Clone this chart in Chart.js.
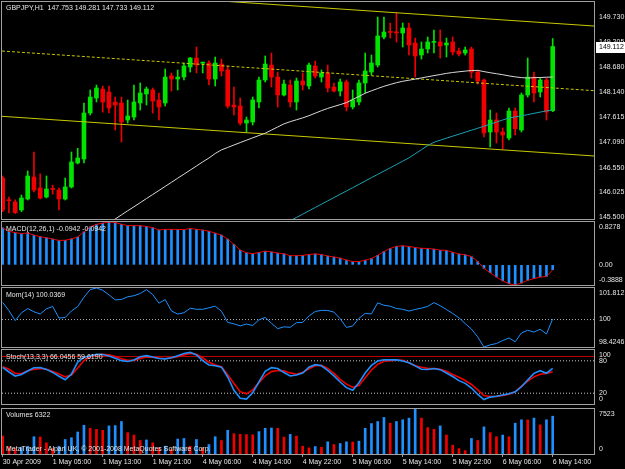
<!DOCTYPE html>
<html lang="en">
<head>
<meta charset="UTF-8">
<title>GBPJPY,H1</title>
<script src="https://cdn.jsdelivr.net/npm/chart.js"></script>
<style>
    body { margin: 0; background: #000; }
    #wrap { position: relative; width: 625px; height: 469px; overflow: hidden; background: #000; }
    #wrap canvas { position: absolute; left: 0; top: 0; }
    .lbl {
        position: absolute; left: 6px;
        font: 7px "Liberation Sans", Arial, sans-serif;
        line-height: 8px; color: #e6e6e6; white-space: nowrap;
    }
</style>
</head>
<body>
<div id="wrap">
    <canvas id="mainChart" width="625" height="469"></canvas>
    <canvas id="macdChart" width="625" height="469"></canvas>
    <canvas id="momChart" width="625" height="469"></canvas>
    <canvas id="stochChart" width="625" height="469"></canvas>
    <canvas id="volChart" width="625" height="469"></canvas>
    <div class="lbl" style="top:4px">GBPJPY,H1&nbsp; 147.753 149.281 147.733 149.112</div>
    <div class="lbl" style="top:225px">MACD(12,26,1) -0.0942 -0.0942</div>
    <div class="lbl" style="top:291px">Mom(14) 100.0369</div>
    <div class="lbl" style="top:353px">Stoch(13,3,3) 66.0456 59.6190</div>
    <div class="lbl" style="top:411px">Volumes 6322</div>
    <div class="lbl" style="top:445px">MetaTrader - Alpari UK, © 2001-2008 MetaQuotes Software Corp.</div>
</div>
<script>
// ---- data (one entry per H1 bar, 30 Apr 21:00 .. 6 May 14:00) ----
const opens = [146.331,145.870,145.824,145.655,145.887,146.353,146.120,145.929,146.110,146.078,
    145.887,146.141,146.649,146.733,147.706,148.023,148.214,148.150,147.939,147.918,
    147.558,147.621,147.918,148.108,148.193,147.981,147.918,148.489,148.425,148.467,
    148.679,148.869,148.760,148.764,148.425,148.742,148.616,147.875,147.854,147.494,
    147.516,147.939,148.404,148.721,148.467,148.087,148.298,147.939,148.383,148.277,
    148.700,148.467,148.552,148.256,148.171,148.362,147.833,147.939,148.341,148.573,
    148.721,149.313,149.430,149.420,149.398,149.504,149.187,148.933,149.060,149.200,
    149.208,149.144,149.208,149.017,148.975,149.060,148.573,148.404,147.304,147.558,
    147.304,147.177,147.748,147.346,148.087,148.467,148.150,148.404,147.753];
const highs = [146.374,145.930,145.870,145.970,146.480,146.881,146.420,146.374,146.180,146.120,
    146.331,146.881,146.960,147.918,148.193,148.298,148.277,148.277,148.044,148.044,
    147.981,148.298,148.341,148.256,148.235,148.129,148.637,148.552,148.616,148.764,
    148.880,149.102,148.785,148.810,148.890,148.848,148.700,148.256,148.023,147.621,
    148.044,148.467,148.912,148.975,148.573,148.404,148.404,148.446,148.552,148.764,
    148.806,148.616,148.721,148.341,148.425,148.404,148.193,148.404,148.975,148.933,
    149.736,149.736,149.610,149.821,149.610,149.610,149.292,149.208,149.313,149.462,
    149.462,149.292,149.313,149.081,149.102,149.102,148.616,148.425,147.769,147.706,
    147.389,147.812,147.812,148.129,148.869,148.573,148.446,148.446,149.281];
const lows = [145.620,145.590,145.580,145.620,145.866,146.035,145.887,145.908,145.990,145.655,
    145.866,146.120,146.628,146.649,147.664,147.939,147.727,147.706,147.346,147.093,
    147.494,147.558,147.769,147.875,147.706,147.558,147.854,148.171,148.193,148.404,
    148.573,148.552,148.552,148.300,148.277,148.489,147.812,147.664,147.452,147.304,
    147.452,147.812,148.362,148.256,147.833,148.066,147.833,147.769,148.193,148.214,
    148.446,148.362,148.150,148.150,148.066,147.748,147.791,147.875,148.129,148.510,
    148.679,149.271,149.292,149.208,149.102,148.933,148.467,148.848,148.975,148.975,
    148.869,148.890,148.933,148.912,148.933,148.446,148.319,147.199,146.987,147.072,
    146.945,147.135,147.241,147.304,148.044,147.939,148.044,147.558,147.733];
const closes = [145.655,145.850,145.600,145.908,146.374,146.078,145.908,146.099,146.090,145.887,
    146.141,146.670,146.754,147.706,148.044,148.235,147.939,147.812,147.875,147.516,
    147.643,147.939,148.129,148.214,147.960,147.833,148.467,148.425,148.467,148.700,
    148.869,148.721,148.770,148.425,148.764,148.594,147.854,147.833,147.494,147.558,
    147.981,148.404,148.742,148.467,148.087,148.319,147.939,148.383,148.298,148.721,
    148.489,148.552,148.235,148.171,148.362,147.833,147.981,148.341,148.594,148.764,
    149.335,149.419,149.410,149.400,149.504,149.144,148.912,149.060,149.208,149.215,
    149.123,149.187,148.996,148.954,149.039,148.573,148.383,147.283,147.558,147.304,
    147.241,147.748,147.373,148.087,148.467,148.129,148.404,147.727,149.112];

// moving averages drawn on the price window (null = not on screen)
const maWhite = [null,null,null,null,null,null,null,null,null,null,
    null,null,null,null,null,null,null,145.380,145.464,145.551,
    145.638,145.722,145.809,145.896,145.982,146.067,146.154,146.240,146.327,146.412,
    146.498,146.585,146.672,146.754,146.849,146.926,146.977,147.029,147.080,147.131,
    147.180,147.230,147.279,147.344,147.410,147.476,147.523,147.563,147.603,147.649,
    147.702,147.755,147.803,147.844,147.883,147.926,147.992,148.057,148.124,148.176,
    148.224,148.271,148.309,148.347,148.377,148.400,148.423,148.448,148.473,148.497,
    148.520,148.544,148.563,148.578,148.592,148.605,148.607,148.582,148.558,148.537,
    148.516,148.491,148.470,148.455,148.446,148.453,148.457,148.463,148.467];
const maTeal = [null,null,null,null,null,null,null,null,null,null,
    null,null,null,null,null,null,null,null,null,null,
    null,null,null,null,null,null,null,null,null,null,
    null,null,null,null,null,null,null,null,null,null,
    null,null,null,null,null,null,145.426,145.496,145.566,145.636,
    145.707,145.777,145.847,145.917,145.987,146.056,146.126,146.196,146.268,146.338,
    146.408,146.477,146.547,146.617,146.687,146.757,146.843,146.930,147.017,147.087,
    147.131,147.174,147.216,147.258,147.300,147.342,147.383,147.426,147.470,147.514,
    147.558,147.600,147.624,147.647,147.672,147.699,147.725,147.751,147.770];

// price channel (two anchor points each, bar index -> price)
const channelX = [-0.112, 94.608];
const channelTop = [150.386, 149.546];
const channelMid = [149.017, 148.178];
const channelLow = [147.636, 146.797];

const macd = [0.714,0.650,0.622,0.604,0.616,0.574,0.545,0.524,0.499,0.472,
    0.475,0.502,0.538,0.638,0.735,0.782,0.806,0.8278,0.817,0.784,
    0.759,0.757,0.757,0.742,0.719,0.673,0.686,0.686,0.684,0.680,
    0.703,0.686,0.672,0.650,0.612,0.575,0.499,0.396,0.285,0.233,
    0.216,0.239,0.264,0.250,0.228,0.214,0.177,0.177,0.184,0.200,
    0.211,0.199,0.171,0.152,0.130,0.092,0.065,0.064,0.089,0.123,
    0.184,0.258,0.317,0.358,0.368,0.356,0.335,0.319,0.318,0.304,
    0.283,0.280,0.243,0.210,0.194,0.159,0.065,-0.067,-0.151,-0.236,
    -0.309,-0.365,-0.3888,-0.351,-0.298,-0.266,-0.235,-0.226,-0.0942];

const mom = [100.983,100.513,99.940,100.385,100.633,100.445,100.316,100.616,100.752,100.086,
    100.120,100.496,100.744,101.283,101.719,101.812,101.684,101.419,101.129,101.154,
    101.308,101.368,101.496,101.719,101.436,100.941,101.146,100.496,100.316,100.393,
    100.650,100.590,100.590,100.675,100.770,100.479,99.838,99.752,99.641,99.744,
    99.658,99.983,100.120,99.786,99.478,99.581,99.555,99.820,99.838,100.205,
    100.462,100.530,100.522,100.428,100.043,99.547,99.632,100.077,100.351,100.325,
    100.958,100.821,100.770,100.633,100.590,100.487,100.581,100.658,100.752,100.975,
    100.795,100.573,100.351,100.103,99.769,99.453,99.008,98.4246,98.547,98.623,
    98.794,98.940,98.726,99.231,99.384,99.282,99.444,99.171,100.0369];

const stochMain = [67.8,59.3,51.8,54.6,61.2,67.0,67.4,64.1,58.5,51.4,
    44.8,55.2,77.7,86.4,89.0,92.0,91.6,88.9,84.5,80.3,
    78.8,81.6,87.5,89.6,87.1,84.2,83.6,85.6,89.2,93.5,
    95.6,90.7,80.2,72.3,70.7,68.2,50.0,25.3,10.7,9.2,
    20.8,41.1,60.6,67.4,65.8,58.2,51.8,53.7,57.2,68.0,
    72.8,70.7,62.1,52.1,40.7,30.3,25.6,39.4,57.3,71.5,
    79.5,81.8,81.8,81.7,79.7,76.4,70.6,64.4,63.8,65.6,
    63.6,57.4,51.0,43.3,38.2,29.6,17.9,8.2,12.8,14.5,
    16.6,18.8,22.6,31.9,44.5,56.8,61.6,57.0,66.05];
const stochSignal = [68.8,64.3,56.6,56.4,61.6,64.2,65.6,64.4,60.4,55.7,
    50.2,53.5,66.6,80.5,87.3,91.2,92.0,91.0,88.0,83.9,
    80.8,80.8,84.5,87.2,86.5,85.1,83.9,85.6,87.6,90.6,
    93.7,92.0,85.6,77.1,72.4,68.9,54.4,37.9,22.9,18.8,
    26.0,39.6,52.3,60.0,62.0,61.3,57.6,55.2,58.6,65.3,
    70.8,71.6,66.1,56.6,45.7,36.8,31.0,34.1,48.6,63.1,
    73.5,79.3,80.4,81.2,80.9,76.5,71.0,68.1,66.0,65.6,
    64.4,60.6,54.7,49.6,43.5,36.2,26.3,15.8,14.0,14.2,
    16.0,18.1,22.4,33.2,42.2,50.3,55.2,56.6,59.62];
const stochLevels = [80, 20];
const stochRedLevel = 88;

const volumes = [3000,1200,900,1100,1300,2890,2850,1870,900,1300,
    2430,2720,3680,4810,4300,4130,3960,4700,4750,5430,
    3570,3170,2260,2350,1870,1020,1300,740,2500,2600,
    1300,2430,1020,1580,2890,2260,3960,3400,3300,3250,
    3200,3740,4300,4350,4300,2830,3280,3000,1300,1020,
    1250,1130,2040,1580,1750,2040,2000,2150,4300,5090,
    5430,6110,5150,5430,5720,6000,7523,6000,4410,4130,
    4700,3170,1470,900,570,2600,2260,4530,3570,2890,
    3170,2890,5150,5720,5700,6000,4870,5720,6322];

// axis labels
const priceTicks = [149.730, 149.205, 148.680, 148.140, 147.615, 147.090, 146.550, 146.025, 145.500];
const macdTicks = [0.8278, 0, -0.3888];
const macdLabels = ['0.8278', '0.00', '-0.3888'];
const momTicks = [101.812, 100, 98.4246];
const momLabels = ['101.812', '100', '98.4246'];
const stochTicks = [100, 80, 20, 0];
const volTicks = [7523, 0];
const timeAt = [0, 8, 16, 24, 32, 40, 48, 56, 64, 72, 80, 88];
const timeText = ['30 Apr 2009', '1 May 05:00', '1 May 13:00', '1 May 21:00', '4 May 06:00', '4 May 14:00',
    '4 May 22:00', '5 May 06:00', '5 May 14:00', '5 May 22:00', '6 May 06:00', '6 May 14:00'];

// ---- look ----
const GREEN = '#00e400', RED = '#f00000', BLUE = '#1e90ff';
const TEXT = '#e6e6e6', FRAME = '#a0a0a0';
const FONT = { family: '"Liberation Sans", Arial, sans-serif', size: 7 };
const X_MIN = channelX[0], X_MAX = channelX[1];

const framePlugin = {
    id: 'frame',
    afterDraw(chart) {
        const a = chart.chartArea, c = chart.ctx;
        c.save();
        c.strokeStyle = FRAME;
        c.lineWidth = 1;
        c.strokeRect(a.left - 0.5, a.top - 0.5, a.width + 1, a.height + 1);
        c.restore();
    }
};

const lastPricePlugin = {
    id: 'lastPrice',
    afterDraw(chart) {
        const c = chart.ctx, a = chart.chartArea;
        const last = closes[closes.length - 1];
        const y = Math.round(chart.scales.y.getPixelForValue(last));
        c.save();
        c.fillStyle = '#ffffff';
        c.fillRect(a.right + 2, y - 5, 625 - a.right - 2, 11);
        c.fillStyle = '#000000';
        c.font = '7px "Liberation Sans", Arial, sans-serif';
        c.textBaseline = 'middle';
        c.fillText(last.toFixed(3), a.right + 5, y + 0.5);
        c.restore();
    }
};

function xAxis(show) {
    return {
        type: 'linear', min: X_MIN, max: X_MAX, display: show, offset: false, bounds: 'data',
        afterFit: s => {
            if (show) { s.height = 15; }
            s.paddingLeft = 0; s.paddingRight = 0;
        },
        afterBuildTicks: s => { s.ticks = timeAt.map(v => ({ value: v })); },
        ticks: { color: TEXT, font: FONT, align: 'start', padding: 1, maxRotation: 0, autoSkip: false,
                 callback: (v, i) => timeText[i] },
        grid: { offset: false, drawOnChartArea: false, drawTicks: true, tickLength: 3, color: FRAME },
        border: { display: false }
    };
}

// o: top/bottom padding, value range, height of the window, tick values and texts
function makePanel(id, type, datasets, o) {
    const vpp = (o.max - o.min) / o.height;
    return new Chart(document.getElementById(id), {
        type: type,
        data: { datasets: datasets },
        plugins: [framePlugin].concat(o.plugins || []),
        options: {
            responsive: false,
            animation: false,
            events: [],
            layout: { padding: { left: 2, right: 0, top: o.top, bottom: o.bottom } },
            plugins: { legend: { display: false }, tooltip: { enabled: false } },
            scales: {
                x: xAxis(!!o.showTime),
                y: {
                    position: 'right', min: o.min, max: o.max, bounds: 'data', beginAtZero: false,
                    afterFit: s => { s.width = 31; s.paddingTop = 0; s.paddingBottom = 0; },
                    // labels at the window edges sit just inside it, like the terminal does
                    afterBuildTicks: s => {
                        s.ticks = o.ticks.map(v => ({
                            value: v === o.max ? v - 5 * vpp : (v === o.min ? v + 4.5 * vpp : v)
                        }));
                    },
                    ticks: { color: TEXT, font: FONT, padding: 5, callback: (v, i) => o.labels[i] },
                    grid: { drawOnChartArea: false, drawTicks: false, color: FRAME },
                    border: { display: false }
                }
            }
        }
    });
}

function line(values, color, width, dash) {
    return {
        type: 'line',
        data: values.map((v, i) => ({ x: i, y: v })),
        borderColor: color, borderWidth: width, borderDash: dash || [],
        pointRadius: 0, tension: 0, spanGaps: false, order: 0
    };
}

function level(value, color, dash) {
    return {
        type: 'line',
        data: [{ x: X_MIN, y: value }, { x: X_MAX, y: value }],
        borderColor: color, borderWidth: 1, borderDash: dash || [],
        pointRadius: 0, order: 5
    };
}

function twoPoint(ys, color, dash) {
    return {
        type: 'line',
        data: channelX.map((x, k) => ({ x: x, y: ys[k] })),
        borderColor: color, borderWidth: 1, borderDash: dash || [],
        pointRadius: 0, order: 0
    };
}

// ---- price window ----
const candleColors = closes.map((c, i) => c >= opens[i] ? GREEN : RED);
makePanel('mainChart', 'bar', [
    {
        type: 'bar', order: 3, grouped: false, barThickness: 1,
        data: highs.map((h, i) => ({ x: i, y: [lows[i], h] })),
        backgroundColor: candleColors, borderWidth: 0
    },
    {
        type: 'bar', order: 2, grouped: false, barThickness: 4, minBarLength: 1,
        data: opens.map((op, i) => ({ x: i, y: [op, closes[i]] })),
        backgroundColor: candleColors, borderWidth: 0
    },
    line(maWhite, '#d8d8d8', 1),
    line(maTeal, '#1aa3b3', 1),
    twoPoint(channelTop, '#c8c800'),
    twoPoint(channelMid, '#c8c800', [3, 2]),
    twoPoint(channelLow, '#c8c800')
], {
    top: 2, bottom: 250, height: 217, min: 145.464, max: 150.054,
    ticks: priceTicks, labels: priceTicks.map(v => v.toFixed(3)),
    plugins: [lastPricePlugin]
});

// ---- MACD ----
makePanel('macdChart', 'bar', [
    {
        type: 'bar', order: 2, grouped: false, barThickness: 2,
        data: macd.map((v, i) => ({ x: i, y: v })),
        backgroundColor: BLUE, borderWidth: 0
    },
    line(macd, RED, 1)   // signal with period 1 runs on the histogram tops
], {
    top: 222, bottom: 184, height: 63, min: -0.3888, max: 0.8278,
    ticks: macdTicks, labels: macdLabels
});

// ---- Momentum ----
makePanel('momChart', 'line', [
    level(100, '#b0b0b0', [1, 2]),
    line(mom, BLUE, 1)
], {
    top: 288, bottom: 122, height: 59, min: 98.4246, max: 101.812,
    ticks: momTicks, labels: momLabels
});

// ---- Stochastic ----
makePanel('stochChart', 'line', [
    level(stochLevels[0], '#c8c8c8', [1, 2]),
    level(stochLevels[1], '#c8c8c8', [1, 2]),
    level(stochRedLevel, '#c00000'),
    line(stochMain, BLUE, 1.6),
    line(stochSignal, RED, 1.6)
], {
    top: 350, bottom: 65, height: 54, min: 0, max: 100,
    ticks: stochTicks, labels: stochTicks.map(String)
});

// ---- Volumes ----
makePanel('volChart', 'bar', [
    {
        type: 'bar', grouped: false, barThickness: 2,
        data: volumes.map((v, i) => ({ x: i, y: v })),
        backgroundColor: volumes.map((v, i) => i > 0 && v > volumes[i - 1] ? BLUE : RED),
        borderWidth: 0
    }
], {
    top: 409, bottom: 0, height: 45, min: 0, max: 7523,
    ticks: volTicks, labels: volTicks.map(String), showTime: true
});
</script>
</body>
</html>
